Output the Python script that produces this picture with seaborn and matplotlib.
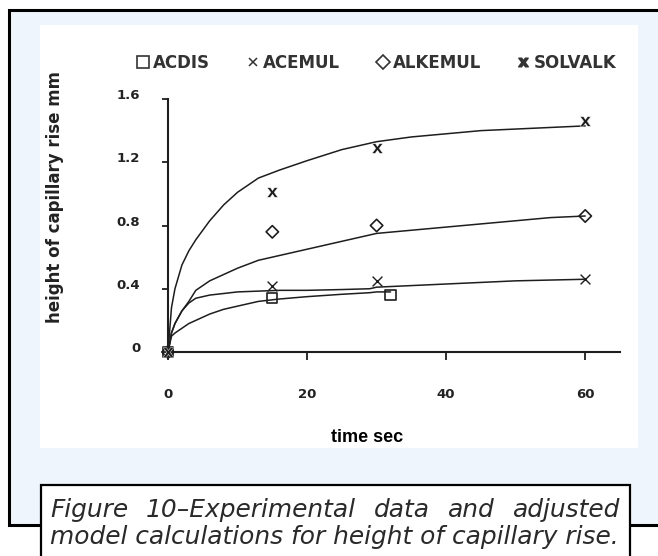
import matplotlib
matplotlib.use("Agg")
import pandas as pd
import seaborn as sns
import matplotlib.pyplot as plt
import matplotlib.transforms as mtransforms
from matplotlib.patches import Rectangle
from matplotlib.lines import Line2D

# measured points (time sec, height mm)
series = ["ACDIS", "ACEMUL", "ALKEMUL", "SOLVALK"]
acdis_t = [0, 15, 32]
acdis_h = [0, 0.34, 0.36]
acemul_t = [0, 15, 30, 60]
acemul_h = [0, 0.42, 0.45, 0.46]
alkemul_t = [0, 15, 30, 60]
alkemul_h = [0, 0.76, 0.80, 0.86]
solvalk_t = [0, 15, 30, 60]
solvalk_h = [0, 1.01, 1.29, 1.46]

# adjusted model curves
curve_t = [0, 0.5, 1, 2, 3, 4, 6, 8, 10, 13, 16, 20, 25, 29, 30, 35, 40, 45, 50, 55, 60]
solvalk_fit = [0, 0.28, 0.40, 0.55, 0.64, 0.71, 0.83, 0.93, 1.01, 1.10, 1.15, 1.21, 1.28,
               1.32, 1.33, 1.36, 1.38, 1.40, 1.41, 1.42, 1.43]
alkemul_fit = [0, 0.12, 0.18, 0.26, 0.32, 0.39, 0.45, 0.49, 0.53, 0.58, 0.61, 0.65, 0.70,
               0.74, 0.75, 0.77, 0.79, 0.81, 0.83, 0.85, 0.86]
acemul_fit = [0, 0.12, 0.18, 0.26, 0.31, 0.34, 0.36, 0.37, 0.38, 0.385, 0.39, 0.39, 0.395,
              0.40, 0.41, 0.42, 0.43, 0.44, 0.45, 0.455, 0.46]
acdis_curve_t = [0, 0.5, 1, 2, 3, 4, 6, 8, 10, 13, 16, 20, 25, 29, 30, 32]
acdis_fit = [0, 0.10, 0.12, 0.15, 0.18, 0.20, 0.24, 0.27, 0.29, 0.32, 0.335, 0.35, 0.365,
             0.375, 0.38, 0.38]

x_ticks = [0, 20, 40, 60]
x_tick_labels = ["0", "20", "40", "60"]
y_ticks = [0, 0.4, 0.8, 1.2, 1.6]
y_tick_labels = ["0", "0.4", "0.8", "1.2", "1.6"]

caption_1 = ["Figure", "10–Experimental", "data", "and", "adjusted"]
caption_2 = "model calculations for height of capillary rise."

curves = pd.concat([
    pd.DataFrame({"t": acdis_curve_t, "h": acdis_fit, "series": "ACDIS"}),
    pd.DataFrame({"t": curve_t, "h": acemul_fit, "series": "ACEMUL"}),
    pd.DataFrame({"t": curve_t, "h": alkemul_fit, "series": "ALKEMUL"}),
    pd.DataFrame({"t": curve_t, "h": solvalk_fit, "series": "SOLVALK"}),
])

W, H = 658, 556


def fx(px):
    return px / W


def fy(py):
    return 1 - py / H


sns.set_style("ticks")
fig = plt.figure(figsize=(W / 100, H / 100), dpi=100)

# frame, white plot panel, caption box
fig.add_artist(Rectangle((fx(9), fy(525)), fx(720) - fx(9), fy(10) - fy(525), transform=fig.transFigure,
                         facecolor="#eef5fc", edgecolor="black", lw=2.2, zorder=-3))
fig.add_artist(Rectangle((fx(40), fy(448)), fx(638) - fx(40), fy(25) - fy(448), transform=fig.transFigure,
                         facecolor="white", edgecolor="none", zorder=-2))
fig.add_artist(Rectangle((fx(41), fy(580)), fx(630) - fx(41), fy(485) - fy(580), transform=fig.transFigure,
                         facecolor="white", edgecolor="black", lw=1.6, zorder=1))

ax = fig.add_axes([fx(168), fy(352), fx(620) - fx(168), fy(99) - fy(352)])
ax.patch.set_visible(False)

ink = "#1e1e1e"
sns.lineplot(data=curves, x="t", y="h", hue="series", palette={s: ink for s in series},
             estimator=None, legend=False, lw=1.1, ax=ax)

sns.scatterplot(x=acdis_t, y=acdis_h, marker="s", s=55, facecolor="none", edgecolor=ink,
                linewidth=1.2, ax=ax, clip_on=False, zorder=4)
sns.scatterplot(x=acemul_t, y=acemul_h, marker="x", s=50, color=ink, linewidth=1.0,
                ax=ax, clip_on=False, zorder=4)
sns.scatterplot(x=alkemul_t, y=alkemul_h, marker="D", s=40, facecolor="none", edgecolor=ink,
                linewidth=1.2, ax=ax, clip_on=False, zorder=4)
sns.scatterplot(x=solvalk_t, y=solvalk_h, marker=r"$\mathbf{x}$", s=60, color=ink,
                linewidth=0.3, ax=ax, clip_on=False, zorder=4)

ax.set_xlim(0, 65)
ax.set_ylim(0, 1.6)
ax.set_xlabel("")
ax.set_ylabel("")
sns.despine(ax=ax)
for side in ["left", "bottom"]:
    ax.spines[side].set_linewidth(1.5)
    ax.spines[side].set_color(ink)

ax.set_xticks(x_ticks)
ax.set_xticklabels(x_tick_labels)
ax.set_yticks(y_ticks)
ax.set_yticklabels(y_tick_labels)
ax.tick_params(axis="x", length=6, width=1.3, pad=20, color=ink)
ax.tick_params(axis="y", length=4, width=1.3, pad=16, color=ink)
for lab in ax.get_xticklabels() + ax.get_yticklabels():
    lab.set_fontweight("bold")
    lab.set_fontsize(9.5)
    lab.set_color("#222222")
up = mtransforms.ScaledTranslation(0, 5 / 100, fig.dpi_scale_trans)
for lab in ax.get_yticklabels():
    lab.set_transform(lab.get_transform() + up)

# legend on top
handles = [
    Line2D([], [], ls="none", marker="s", ms=9, mfc="none", mec="#333333", mew=1.2),
    Line2D([], [], ls="none", marker="x", ms=6, color="#333333", mew=1.1),
    Line2D([], [], ls="none", marker="D", ms=7, mfc="none", mec="#333333", mew=1.2),
    Line2D([], [], ls="none", marker=r"$\mathbf{x}$", ms=7, color="#333333"),
]
fig.legend(handles, series, loc="center", bbox_to_anchor=(fx(376), fy(63)), ncol=4,
           frameon=False, handletextpad=0.15, columnspacing=2.1, handlelength=0.9,
           prop=dict(family="DejaVu Sans", weight="bold", size=12), labelcolor="#333333")

fig.text(fx(55), fy(197), "height of capillary rise mm", rotation=90, ha="center", va="center",
         fontweight="bold", fontsize=12, color="#222222")
fig.text(fx(367), fy(438), "time sec", ha="center", va="center", family="Liberation Sans",
         fontweight="bold", fontsize=13, color="black")

# justified italic caption
fig.canvas.draw()
renderer = fig.canvas.get_renderer()
left_px, right_px = 50, 620
cap_style = dict(family="DejaVu Sans", style="italic", color="#2a2a2a", va="center", ha="left")
probe = fig.text(0, 0, caption_2, fontsize=15, **cap_style)
size = 15 * (right_px - left_px) / probe.get_window_extent(renderer).width
probe.remove()
fig.text(fx(left_px), fy(537), caption_2, fontsize=size, zorder=2, **cap_style)

widths = []
for w in caption_1:
    t = fig.text(0, 0, w, fontsize=size, **cap_style)
    widths.append(t.get_window_extent(renderer).width)
    t.remove()
gap = (right_px - left_px - sum(widths)) / (len(caption_1) - 1)
x = left_px
for w, wd in zip(caption_1, widths):
    fig.text(fx(x), fy(510), w, fontsize=size, zorder=2, **cap_style)
    x += wd + gap

fig.savefig("out.png", dpi=100)
